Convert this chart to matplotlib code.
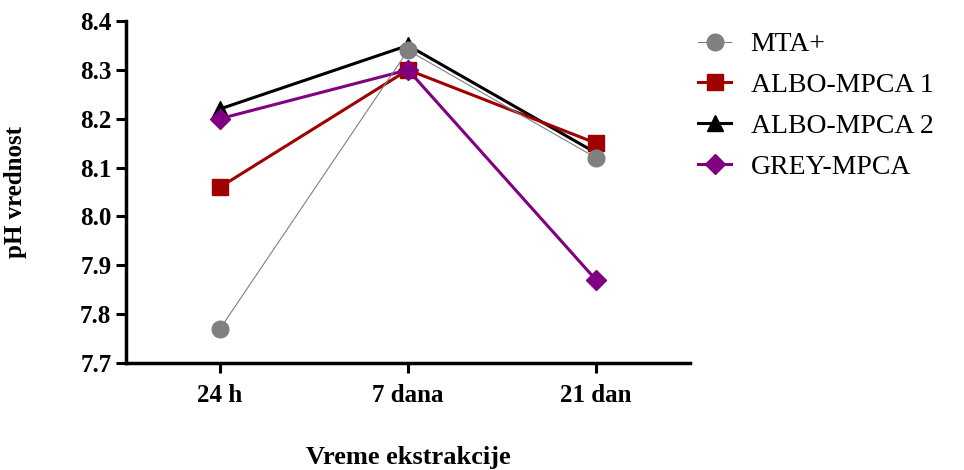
import matplotlib
matplotlib.use('Agg')
import matplotlib.pyplot as plt
import numpy as np

# podaci
vreme = ['24 h', '7 dana', '21 dan']
mta = [7.77, 8.34, 8.12]
albo1 = [8.06, 8.30, 8.15]
albo2 = [8.22, 8.35, 8.13]
grey = [8.20, 8.30, 7.87]

plt.rcParams['font.family'] = ['Liberation Serif', 'DejaVu Serif']

fig = plt.figure(figsize=(9.64, 4.70), dpi=100)
ax = fig.add_axes([0.1307, 0.2277, 0.5851, 0.7276])

x = np.arange(len(vreme))

ax.plot(x, albo2, '-', color='black', lw=2.2, marker='^', ms=12, zorder=3, label='ALBO-MPCA 2')
ax.plot(x, albo1, '-', color='#a00000', lw=2.2, marker='s', ms=12, zorder=4, label='ALBO-MPCA 1')
ax.plot(x, grey, '-', color='#800080', lw=2.2, marker='D', ms=10, zorder=5, label='GREY-MPCA')
ax.plot(x, mta, '-', color='#808080', lw=0.8, marker='o', ms=12, zorder=6, label='MTA+')

ax.set_xlim(-0.5, 2.5)
ax.set_ylim(7.7, 8.4)
ax.set_yticks([7.7, 7.8, 7.9, 8.0, 8.1, 8.2, 8.3, 8.4])
ax.set_yticklabels(['7.7', '7.8', '7.9', '8.0', '8.1', '8.2', '8.3', '8.4'])
ax.set_xticks(x)
ax.set_xticklabels(vreme)

for s in ['top', 'right']:
    ax.spines[s].set_visible(False)
for s in ['left', 'bottom']:
    ax.spines[s].set_linewidth(2.5)

ax.tick_params(axis='both', width=2.2, length=7, labelsize=18)
ax.tick_params(axis='x', pad=8)
for lab in ax.get_xticklabels() + ax.get_yticklabels():
    lab.set_fontweight('bold')

ax.set_ylabel('pH vrednost', fontsize=18, fontweight='bold', labelpad=38)
ax.set_xlabel('Vreme ekstrakcije', fontsize=19, fontweight='bold', labelpad=28)

h, l = ax.get_legend_handles_labels()
order = [3, 1, 0, 2]
leg = fig.legend([h[i] for i in order], [l[i] for i in order],
                 loc='upper left', bbox_to_anchor=(0.698, 0.985), frameon=False,
                 fontsize=20, handlelength=1.2, handletextpad=0.7, labelspacing=0.55)

fig.savefig('out.png', dpi=100)
